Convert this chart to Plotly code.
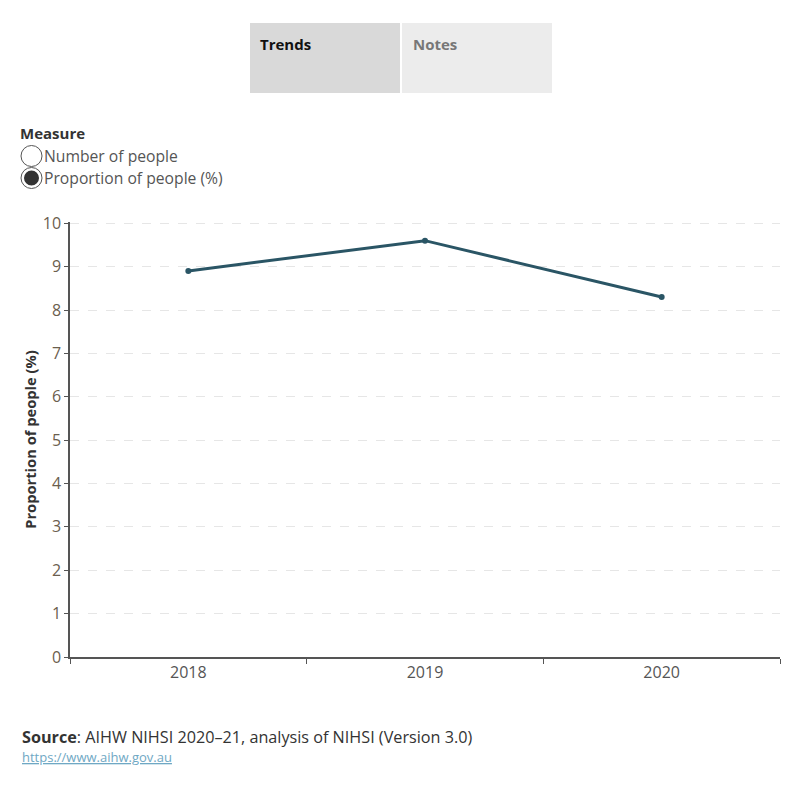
import plotly.graph_objects as go

years = ["2018", "2019", "2020"]
proportion = [8.9, 9.6, 8.3]
y_ticks = [0, 1, 2, 3, 4, 5, 6, 7, 8, 9, 10]

L, R, T, B = 70, 780, 222, 657  # plot area in pixels
W, H = 800, 800


def px(x):
    return (x - L) / (R - L)


def py(y):
    return (B - y) / (B - T)


FONT = "'Open Sans', sans-serif"

fig = go.Figure()
fig.add_trace(go.Scatter(
    x=years, y=proportion, mode="lines+markers",
    line=dict(color="#2a5565", width=3),
    marker=dict(color="#2a5565", size=6),
    hoverinfo="skip", showlegend=False,
))

shapes = []
annotations = []

# Tabs
shapes.append(dict(type="rect", xref="paper", yref="paper", x0=px(250), x1=px(400), y0=py(93), y1=py(23),
                   fillcolor="#d9d9d9", line=dict(width=0), layer="below"))
shapes.append(dict(type="rect", xref="paper", yref="paper", x0=px(402), x1=px(552), y0=py(93), y1=py(23),
                   fillcolor="#ececec", line=dict(width=0), layer="below"))
annotations.append(dict(text="<b>Trends</b>", x=px(258), y=py(44), xref="paper", yref="paper",
                        xanchor="left", yanchor="middle", showarrow=False,
                        font=dict(family=FONT, size=15, color="#111111")))
annotations.append(dict(text="<b>Notes</b>", x=px(411), y=py(44), xref="paper", yref="paper",
                        xanchor="left", yanchor="middle", showarrow=False,
                        font=dict(family=FONT, size=15, color="#777777")))

# Measure selector
annotations.append(dict(text="<b>Measure</b>", x=px(18), y=py(133), xref="paper", yref="paper",
                        xanchor="left", yanchor="middle", showarrow=False,
                        font=dict(family=FONT, size=15, color="#333333")))
for cy, label, filled in [(156, "Number of people", False), (178, "Proportion of people (%)", True)]:
    shapes.append(dict(type="circle", xref="paper", yref="paper",
                       x0=px(21), x1=px(42), y0=py(cy + 10.5), y1=py(cy - 10.5),
                       fillcolor="white", line=dict(color="#555555", width=1)))
    if filled:
        shapes.append(dict(type="circle", xref="paper", yref="paper",
                           x0=px(24), x1=px(39), y0=py(cy + 7.5), y1=py(cy - 7.5),
                           fillcolor="#333333", line=dict(width=0)))
    annotations.append(dict(text=label, x=px(42), y=py(cy), xref="paper", yref="paper",
                            xanchor="left", yanchor="middle", showarrow=False,
                            font=dict(family=FONT, size=15.7, color="#555555")))

# Source
annotations.append(dict(text="<b>Source</b>: AIHW NIHSI 2020–21, analysis of NIHSI (Version 3.0)",
                        x=px(20), y=py(737), xref="paper", yref="paper",
                        xanchor="left", yanchor="middle", showarrow=False,
                        font=dict(family=FONT, size=16.2, color="#333333")))
annotations.append(dict(text="<u>https://www.aihw.gov.au</u>",
                        x=px(20), y=py(757), xref="paper", yref="paper",
                        xanchor="left", yanchor="middle", showarrow=False,
                        font=dict(family=FONT, size=13, color="#6fa8c4")))

fig.update_layout(
    width=W, height=H,
    margin=dict(l=L, r=W - R, t=T, b=H - B, pad=0),
    paper_bgcolor="white", plot_bgcolor="white",
    shapes=shapes, annotations=annotations,
    font=dict(family=FONT),
    xaxis=dict(
        type="category", range=[-0.5, 2.5], tickson="boundaries",
        ticks="outside", ticklen=5, tickcolor="#555555",
        showline=True, linecolor="#555555", linewidth=1.5,
        showgrid=False, zeroline=False,
        tickfont=dict(family=FONT, size=16, color="#555555"),
        fixedrange=True,
    ),
    yaxis=dict(
        range=[0, 10.03], tickvals=y_ticks,
        ticks="outside", ticklen=4, tickcolor="#555555",
        showline=True, linecolor="#555555", linewidth=1.5,
        showgrid=True, gridcolor="#e6e6e6", griddash="dash", gridwidth=1,
        zeroline=False,
        tickfont=dict(family=FONT, size=16, color="#6b5e4e"),
        title=dict(text="<b>Proportion of people (%)</b>", standoff=3,
                   font=dict(family=FONT, size=14.7, color="#333333")),
        fixedrange=True,
    ),
)

fig.write_html("out.html")
